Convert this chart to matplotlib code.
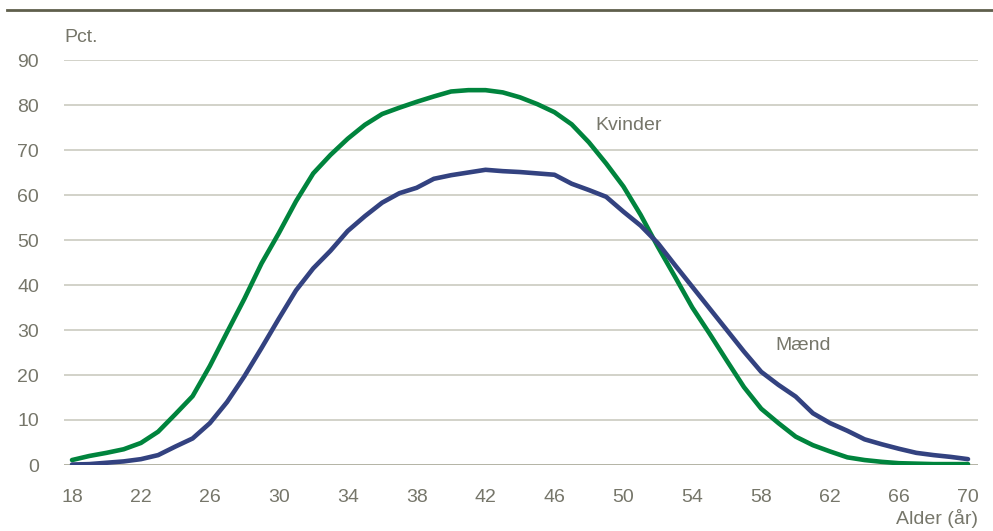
import matplotlib
matplotlib.use("Agg")
import matplotlib.pyplot as plt
from matplotlib.lines import Line2D

# Data: share (pct.) by age, 18-70
ages = list(range(18, 71))
kvinder = [1.1, 2.0, 2.7, 3.5, 4.9, 7.4, 11.3, 15.3, 22.0, 29.5,
           36.9, 44.8, 51.5, 58.6, 64.8, 68.9, 72.5, 75.6, 78.0, 79.4,
           80.7, 81.9, 83.0, 83.3, 83.3, 82.8, 81.7, 80.2, 78.4, 75.7,
           71.7, 67.0, 61.9, 55.6, 48.5, 41.8, 35.0, 29.2, 23.2, 17.3,
           12.5, 9.3, 6.3, 4.4, 3.0, 1.7, 1.1, 0.7, 0.4, 0.3,
           0.2, 0.2, 0.2]
maend = [0.1, 0.2, 0.5, 0.8, 1.3, 2.2, 4.1, 5.9, 9.3, 14.0,
         19.7, 26.0, 32.5, 38.8, 43.7, 47.6, 52.0, 55.3, 58.3, 60.4,
         61.6, 63.6, 64.4, 65.0, 65.6, 65.3, 65.1, 64.8, 64.5, 62.5,
         61.1, 59.6, 56.3, 53.2, 49.3, 44.4, 39.6, 34.8, 30.0, 25.2,
         20.7, 17.8, 15.2, 11.5, 9.3, 7.6, 5.7, 4.6, 3.6, 2.7,
         2.2, 1.8, 1.3]
xticks = list(range(18, 71, 4))
yticks = list(range(0, 91, 10))

text_col = "#76766a"
grid_col = "#cbcbc0"
green = "#00843d"
blue = "#334280"
fs = 14

plt.rcParams['font.family'] = ['Liberation Sans Narrow', 'Liberation Sans', 'DejaVu Sans']

fig = plt.figure(figsize=(9.93, 5.31), dpi=100)
ax = fig.add_axes([64 / 993, 1 - 465 / 531, (978 - 64) / 993, (465 - 60) / 531])

ax.plot(ages, kvinder, color=green, lw=3.3, solid_capstyle='round', zorder=3)
ax.plot(ages, maend, color=blue, lw=3.3, solid_capstyle='round', zorder=3)

ax.set_xlim(18 - 8 / 17.23, 70 + 10 / 17.23)
ax.set_ylim(0, 90)
ax.set_xticks(xticks)
ax.set_yticks(yticks)
ax.tick_params(length=0, labelsize=fs, colors=text_col)
ax.tick_params(axis='y', pad=18)
ax.tick_params(axis='x', pad=17)
ax.grid(axis='y', color=grid_col, lw=1.2)
ax.set_axisbelow(True)
for s in ax.spines.values():
    s.set_visible(False)
ax.axhline(0, color="#b0b0a0", lw=1.2, zorder=2)

# labels
fig.text(64 / 993, 1 - 38 / 531, "Pct.", color=text_col, fontsize=fs, va='center', ha='left')
fig.text(978 / 993, 1 - 518 / 531, "Alder (år)", color=text_col, fontsize=fs, va='center', ha='right')
ax.text(48.4, 75.5, "Kvinder", color=text_col, fontsize=fs, va='center', ha='left')
ax.text(58.8, 26.5, "Mænd", color=text_col, fontsize=fs, va='center', ha='left')

# top rule
fig.add_artist(Line2D([7 / 993, 1], [1 - 10 / 531, 1 - 10 / 531], color="#5f5f4c", lw=2.0))

fig.savefig("out.png", dpi=100, facecolor="white")
